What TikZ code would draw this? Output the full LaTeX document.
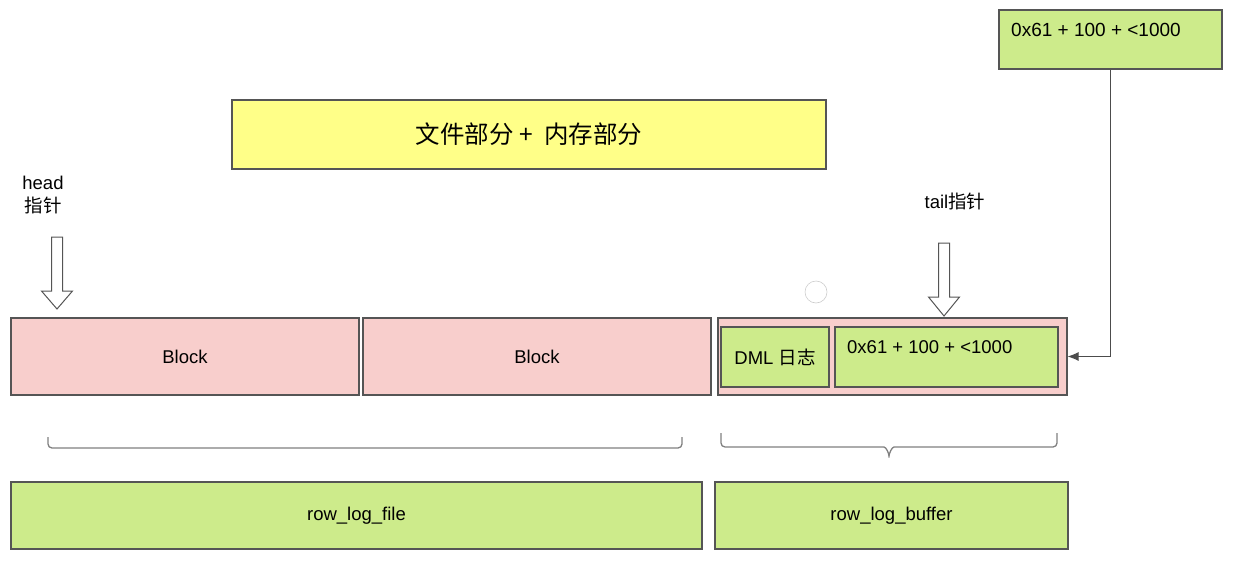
\documentclass[tikz,border=0pt]{standalone}
\usepackage{fontspec}
\setmainfont{Liberation Sans}
\newfontfamily\cjk{Noto Sans CJK SC}
\usetikzlibrary{calc,arrows.meta}
\definecolor{pinkfill}{HTML}{F8CECC}
\definecolor{greenfill}{HTML}{CDEB8B}
\definecolor{yellowfill}{HTML}{FFFF88}
\definecolor{edgegray}{HTML}{555555}
\def\hollowdown(#1,#2,#3,#4){\draw[pointer] (#1-5.5,#2) -- (#1+5.5,#2) -- (#1+5.5,#3-#4) -- (#1+15.5,#3-#4) -- (#1,#3) -- (#1-15.5,#3-#4) -- (#1-5.5,#3-#4) -- cycle;}

\begin{document}
\begin{tikzpicture}[x=1pt, y=-1pt,
	box/.style={draw=edgegray, line width=1.1pt, inner sep=0pt},
	blockbox/.style={box, fill=pinkfill, minimum width=348pt, minimum height=77pt},
	greenbox/.style={box, fill=greenfill},
	txt/.style={font=\fontsize{18.5}{22}\selectfont},
	pointer/.style={draw=edgegray, line width=1pt, fill=white},
	bracket/.style={draw=gray, line width=1.3pt, rounded corners=4pt},
	link/.style={draw=black!70, line width=0.9pt, -{Latex[length=11pt,width=9pt]}}]
	%%%%% START %%%%%
	
	\useasboundingbox (0,0) rectangle (1234,562);
	
	\node[box, fill=yellowfill, minimum width=594pt, minimum height=69pt, font=\fontsize{24.5}{28}\selectfont] (mem) at (529,134.5) {\cjk 文件部分 +\ \ 内存部分};
	
	\node[greenbox, minimum width=223pt, minimum height=59pt] (top) at (1110.5,39.5) {};
	\node[txt, font=\fontsize{19}{22}\selectfont, anchor=west, inner sep=0pt] (toptxt) at (1011,30) {0x61 + 100 + <1000};
	
	\node[txt, align=center, inner sep=0pt] (headtxt) at (43,195) {head\\[1pt]{\cjk 指针}};
	\node[txt, inner sep=0pt] (tailtxt) at (955,201) {tail{\cjk 指针}};
	\hollowdown(57,237,309,18)
	\hollowdown(944,243,316,19)
	
	\node[blockbox, txt] (blk1) at (185,356.5) {Block};
	\node[blockbox, txt] (blk2) at (537,356.5) {Block};
	\node[blockbox, minimum width=349pt] (buf) at (892.5,356.5) {};
	\node[greenbox, txt, minimum width=108pt, minimum height=60pt] (dml) at (775,357) {DML {\cjk 日志}};
	\node[greenbox, minimum width=223pt, minimum height=60pt] (rec) at (946.5,357) {};
	\node[txt, anchor=west, inner sep=0pt] (rectxt) at (847,347) {0x61 + 100 + <1000};
	
	\draw[link] (top.south) |- (buf.east);
	
	\draw[gray!40, line width=0.6pt] (816,292) circle (11);
	
	\draw[bracket] (48,437) -- (48,448) -- (682,448) -- (682,437);
	\draw[bracket] (721,433) -- (721,447) -- (880,447) to[out=0,in=90] (889,460) to[out=90,in=180] (898,447) -- (1057,447) -- (1057,433);
	
	\node[greenbox, txt, minimum width=691pt, minimum height=67pt] (file) at (356.5,515.5) {row\_log\_file};
	\node[greenbox, txt, minimum width=353pt, minimum height=67pt] (bufname) at (891.5,515.5) {row\_log\_buffer};
	
	%%%%% END %%%%%
\end{tikzpicture}
\end{document}
